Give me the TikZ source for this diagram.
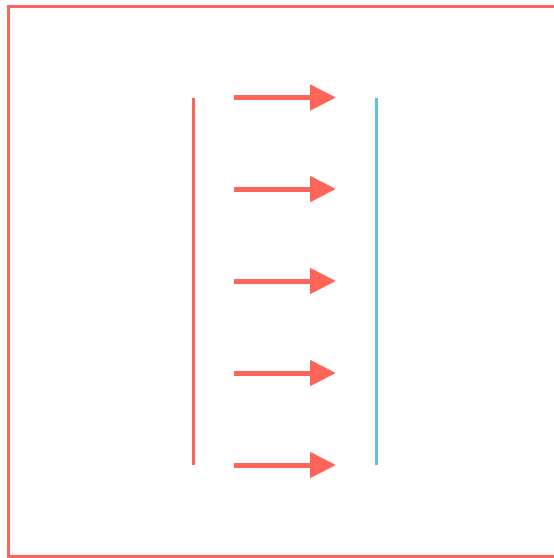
\documentclass[tikz,border=0pt]{standalone}
\usetikzlibrary{arrows.meta}
\definecolor{myred}{HTML}{FF6459}
\definecolor{myblue}{HTML}{5AC4DE}
\tikzset{
  frame/.style={draw=myred, line width=3pt},
  barline/.style={line width=3pt},
  flow/.style={draw=myred, line width=5pt, -{Triangle[length=26pt,width=25pt]}}
}
\begin{document}
\begin{tikzpicture}[x=1pt,y=-1pt]
\useasboundingbox (0,0) rectangle (554,558);
\draw[frame] (8.5,6) rectangle (560,556.5);
\coordinate (rt) at (193,98);
\coordinate (rb) at (193,465);
\coordinate (bt) at (376.5,98);
\coordinate (bb) at (376.5,465);
\draw[barline, myred] (rt) -- (rb);
\draw[barline, myblue] (bt) -- (bb);
\foreach \i/\y in {1/97.5,2/189,3/281,4/373,5/465}{
  \coordinate (s\i) at (234,\y);
  \coordinate (e\i) at (336,\y);
  \draw[flow] (s\i) -- (e\i);
}
\end{tikzpicture}
\end{document}
